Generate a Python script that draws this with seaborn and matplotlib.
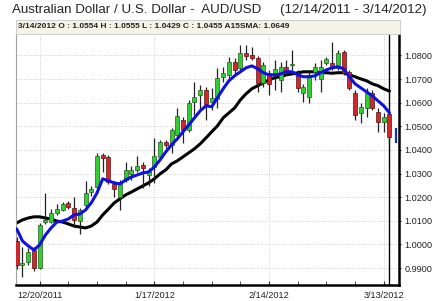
import numpy as np
import pandas as pd
import matplotlib
matplotlib.use("Agg")
import matplotlib.pyplot as plt
from matplotlib.patches import Rectangle
import seaborn as sns

# ---------------- data ----------------
dates = pd.bdate_range("2011-12-14", "2012-03-14")
opens = [1.0015, 0.9915, 0.9926, 0.9977, 0.9900, 1.0095, 1.0095, 1.0133, 1.0146, 1.0176,
         1.0155, 1.0100, 1.0167, 1.0222, 1.0244, 1.0379, 1.0371, 1.0256, 1.0201, 1.0273,
         1.0299, 1.0316, 1.0337, 1.0294, 1.0328, 1.0371, 1.0434, 1.0422, 1.0464, 1.0528,
         1.0485, 1.0604, 1.0633, 1.0655, 1.0604, 1.0617, 1.0710, 1.0718, 1.0773, 1.0748,
         1.0811, 1.0803, 1.0790, 1.0684, 1.0727, 1.0722, 1.0697, 1.0752, 1.0760, 1.0727,
         1.0642, 1.0625, 1.0731, 1.0701, 1.0769, 1.0769, 1.0748, 1.0816, 1.0731, 1.0642,
         1.0557, 1.0578, 1.0642, 1.0561, 1.0519, 1.0554]
highs = [1.0030, 0.9990, 0.9985, 0.9990, 1.0090, 1.0218, 1.0150, 1.0170, 1.0180, 1.0182,
         1.0201, 1.0155, 1.0269, 1.0248, 1.0388, 1.0388, 1.0379, 1.0265, 1.0273, 1.0350,
         1.0333, 1.0375, 1.0350, 1.0324, 1.0451, 1.0443, 1.0443, 1.0494, 1.0578, 1.0540,
         1.0612, 1.0689, 1.0676, 1.0667, 1.0663, 1.0748, 1.0752, 1.0794, 1.0790, 1.0845,
         1.0845, 1.0837, 1.0799, 1.0773, 1.0739, 1.0780, 1.0773, 1.0782, 1.0824, 1.0739,
         1.0680, 1.0739, 1.0769, 1.0782, 1.0794, 1.0858, 1.0824, 1.0824, 1.0739, 1.0655,
         1.0600, 1.0663, 1.0655, 1.0578, 1.0557, 1.0555]
lows = [0.9895, 0.9862, 0.9915, 0.9889, 0.9895, 1.0085, 1.0090, 1.0125, 1.0140, 1.0150,
        1.0074, 1.0044, 1.0146, 1.0205, 1.0235, 1.0307, 1.0256, 1.0201, 1.0146, 1.0265,
        1.0273, 1.0307, 1.0239, 1.0248, 1.0261, 1.0358, 1.0409, 1.0388, 1.0456, 1.0430,
        1.0477, 1.0549, 1.0563, 1.0528, 1.0570, 1.0578, 1.0689, 1.0706, 1.0718, 1.0739,
        1.0782, 1.0782, 1.0646, 1.0667, 1.0633, 1.0655, 1.0646, 1.0718, 1.0739, 1.0646,
        1.0604, 1.0600, 1.0697, 1.0646, 1.0760, 1.0739, 1.0739, 1.0718, 1.0655, 1.0528,
        1.0515, 1.0540, 1.0570, 1.0477, 1.0477, 1.0429]
closes = [0.9915, 0.9920, 0.9968, 0.9900, 1.0083, 1.0104, 1.0133, 1.0150, 1.0172, 1.0159,
          1.0104, 1.0146, 1.0218, 1.0235, 1.0375, 1.0367, 1.0265, 1.0235, 1.0265, 1.0316,
          1.0316, 1.0333, 1.0324, 1.0311, 1.0375, 1.0434, 1.0422, 1.0485, 1.0545, 1.0485,
          1.0600, 1.0625, 1.0655, 1.0595, 1.0621, 1.0706, 1.0727, 1.0773, 1.0739, 1.0811,
          1.0799, 1.0790, 1.0684, 1.0760, 1.0680, 1.0743, 1.0752, 1.0731, 1.0765, 1.0663,
          1.0667, 1.0718, 1.0752, 1.0752, 1.0786, 1.0748, 1.0811, 1.0727, 1.0663, 1.0549,
          1.0583, 1.0646, 1.0578, 1.0519, 1.0540, 1.0455]
fast_ma = [1.0066, 1.0015, 0.9994, 0.9977, 0.9998, 1.0040, 1.0070, 1.0095, 1.0099, 1.0108,
           1.0125, 1.0129, 1.0146, 1.0176, 1.0218, 1.0278, 1.0269, 1.0261, 1.0256, 1.0273,
           1.0286, 1.0294, 1.0303, 1.0307, 1.0328, 1.0358, 1.0392, 1.0422, 1.0447, 1.0477,
           1.0506, 1.0536, 1.0566, 1.0587, 1.0583, 1.0621, 1.0659, 1.0693, 1.0714, 1.0731,
           1.0748, 1.0756, 1.0744, 1.0727, 1.0718, 1.0718, 1.0722, 1.0731, 1.0731, 1.0718,
           1.0710, 1.0710, 1.0714, 1.0727, 1.0739, 1.0748, 1.0752, 1.0744, 1.0710, 1.0680,
           1.0663, 1.0646, 1.0629, 1.0608, 1.0587, 1.0557]
sma15 = [1.0091, 1.0104, 1.0112, 1.0117, 1.0117, 1.0112, 1.0108, 1.0099, 1.0095, 1.0087,
         1.0078, 1.0074, 1.0070, 1.0078, 1.0095, 1.0125, 1.0150, 1.0176, 1.0193, 1.0210,
         1.0222, 1.0235, 1.0248, 1.0261, 1.0278, 1.0299, 1.0316, 1.0341, 1.0354, 1.0371,
         1.0388, 1.0405, 1.0426, 1.0451, 1.0477, 1.0502, 1.0536, 1.0557, 1.0578, 1.0612,
         1.0638, 1.0659, 1.0672, 1.0684, 1.0697, 1.0706, 1.0710, 1.0718, 1.0722, 1.0727,
         1.0731, 1.0731, 1.0731, 1.0727, 1.0727, 1.0725, 1.0727, 1.0727, 1.0718, 1.0710,
         1.0701, 1.0693, 1.0680, 1.0672, 1.0659, 1.0649]
marker_range = [1.0430, 1.0494]
tick_labels = ["12/20/2011", "1/17/2012", "2/14/2012", "3/13/2012"]
y_ticks = [0.99, 1.00, 1.01, 1.02, 1.03, 1.04, 1.05, 1.06, 1.07, 1.08]

title = "Australian Dollar / U.S. Dollar -  AUD/USD     (12/14/2011 - 3/14/2012)"
header = "3/14/2012 O : 1.0554 H : 1.0555 L : 1.0429 C : 1.0455 A15SMA: 1.0649"

# ---------------- figure ----------------
sns.set_style("white")
plt.rcParams["font.family"] = ["Liberation Sans", "DejaVu Sans"]

W, H = 434, 301
fig = plt.figure(figsize=(W / 100, H / 100), dpi=100)
ax = fig.add_axes([16 / W, 1 - 285 / H, (399 - 16) / W, (285 - 34) / H])

n = len(closes)
idx = np.arange(n)
df = pd.DataFrame({"i": idx, "date": dates[:n], "open": opens, "high": highs,
                   "low": lows, "close": closes, "fast": fast_ma, "sma15": sma15})

# grid
for yv in y_ticks:
    ax.axhline(yv, color="#d0d0d0", lw=0.7, ls=(0, (1, 1.5)), zorder=0)
date_strs = [f"{d.month}/{d.day}/{d.year}" for d in df["date"]]
major_pos = [date_strs.index(t) for t in tick_labels]
for xv in major_pos:
    ax.axvline(xv, color="#d0d0d0", lw=0.7, ls=(0, (1, 1.5)), zorder=0)

# current-date line
ax.axvline(idx[-1], color="black", lw=1.0, zorder=1)

# moving averages (seaborn)
sns.lineplot(data=df, x="i", y="sma15", ax=ax, color="black", lw=2.2, zorder=2)
# candles
up = df["close"] >= df["open"]
body_lo = np.minimum(df["open"], df["close"])
body_h = np.maximum(np.abs(df["close"] - df["open"]), 0.0003)
ax.vlines(df["i"], df["low"], df["high"], color="#222222", lw=0.9, zorder=3)
ax.bar(df["i"][up], body_h[up], bottom=body_lo[up], width=0.7,
       color="#33cc33", edgecolor="#1f5f1f", lw=0.5, zorder=4)
ax.bar(df["i"][~up], body_h[~up], bottom=body_lo[~up], width=0.7,
       color="#cc2a2a", edgecolor="#5a1010", lw=0.5, zorder=4)
sns.lineplot(data=df, x="i", y="fast", ax=ax, color="#1010e0", lw=2.2, zorder=5)

# small blue marker after last candle
ax.vlines([idx[-1] + 1.1], marker_range[0], marker_range[1], color="#1030c0", lw=1.6, zorder=5)

ax.set_xlim(-0.12, 66.66)
ax.set_ylim(0.98284, 1.0891)
ax.set_xlabel("")
ax.set_ylabel("")

ax.set_xticks(major_pos)
ax.set_xticklabels(tick_labels)
ax.set_xticks([p for p in range(major_pos[0] - 5, n, 5) if p not in major_pos and p >= 0], minor=True)
ax.tick_params(axis="x", which="both", direction="in", length=3, color="#333333",
               labelsize=6.6, labelcolor="#222222", pad=4, bottom=True)
ax.yaxis.tick_right()
ax.set_yticks(y_ticks)
ax.set_yticklabels([f"{v:.4f}" for v in y_ticks])
ax.tick_params(axis="y", which="both", direction="out", length=1.5, color="#333333",
               labelsize=6.6, labelcolor="#222222", pad=2.5, right=True, left=False)

for s in ["top"]:
    ax.spines[s].set_visible(False)
ax.spines["left"].set_color("#a0a0a0")
ax.spines["left"].set_linewidth(0.8)
ax.spines["right"].set_color("black")
ax.spines["right"].set_linewidth(1.8)
ax.spines["bottom"].set_color("black")
ax.spines["bottom"].set_linewidth(1.8)

# header box
fig.patches.append(Rectangle((16 / W, 1 - 34 / H), (400 - 16) / W, 14 / H,
                             transform=fig.transFigure, facecolor="#f5f3e8",
                             edgecolor="#c8c8c8", lw=0.6, zorder=0))
fig.text(18 / W, 1 - 27 / H, header, fontsize=6.0, fontweight="bold",
         color="#222222", va="center", ha="left")
fig.text(12 / W, 1 - 10 / H, title, fontsize=9.6, color="#222222", va="center", ha="left")

fig.savefig("out.png", dpi=100)
